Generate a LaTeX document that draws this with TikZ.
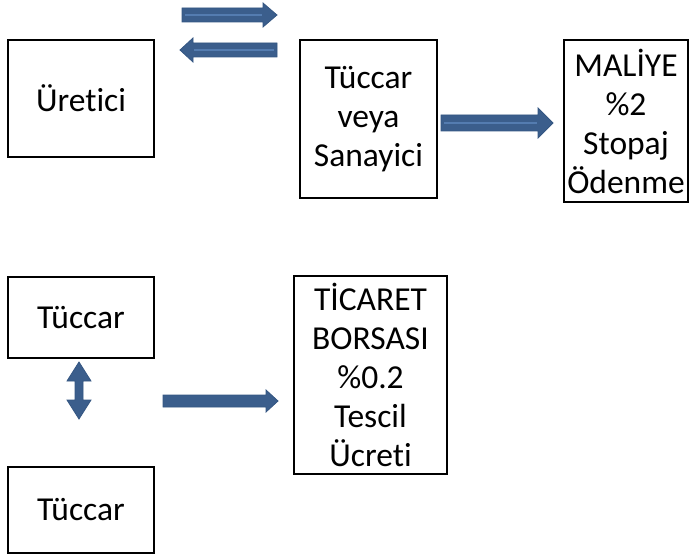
\documentclass[tikz,border=0pt]{standalone}
\usepackage{fontspec}
\setmainfont[Ligatures=NoCommon]{Carlito}
\definecolor{arrowfill}{RGB}{59,94,140}
\definecolor{arrowline}{RGB}{52,86,130}
\definecolor{stripe}{RGB}{84,124,176}
\tikzset{
  box/.style={draw=black, line width=1.8pt, inner sep=0pt, align=center,
    font=\fontsize{33.5}{39}\selectfont},
  blockarrow/.style={fill=arrowfill, draw=arrowline, line width=0.8pt, line join=miter},
  hilite/.style={draw=stripe, line width=2.5pt}
}
\begin{document}
\begin{tikzpicture}[x=1pt,y=-1pt]
\useasboundingbox (0,0) rectangle (690,556);
% boxes
\node[box, minimum width=146pt, minimum height=117pt] (uretici) at (81,98.5) {Üretici};
\node[box, minimum width=137pt, minimum height=158pt] (sanayici) at (368.5,119) {Tüccar\\veya\\Sanayici};
\node[box, minimum width=124pt, minimum height=162pt] (maliye) at (626,121) {MALİYE\\\%2\\Stopaj\\Ödenme};
\node[box, minimum width=146pt, minimum height=81pt] (tuccarA) at (81,317.5) {Tüccar};
\node[box, minimum width=153pt, minimum height=198pt] (borsa) at (370.5,375) {TİCARET\\BORSASI\\\%0.2\\Tescil\\Ücreti};
\node[box, minimum width=146pt, minimum height=86pt] (tuccarB) at (81,510) {Tüccar};
% arrows
\draw[blockarrow] (182,8)--(263,8)--(263,3)--(277,15)--(263,27)--(263,22)--(182,22)--cycle;
\draw[hilite] (185,15)--(262,15);
\draw[blockarrow] (277,43)--(193,43)--(193,38)--(180,50)--(193,62)--(193,57)--(277,57)--cycle;
\draw[hilite] (274,50)--(194,50);
\draw[blockarrow] (441,115)--(538,115)--(538,108)--(553,123)--(538,138)--(538,131)--(441,131)--cycle;
\draw[hilite] (444,123)--(537,123);
\draw[blockarrow] (163,395)--(266,395)--(266,390)--(278,401)--(266,412)--(266,407)--(163,407)--cycle;
\draw[blockarrow] (79,362)--(91,381)--(83,381)--(83,400)--(91,400)--(79,419)--(67,400)--(75,400)--(75,381)--(67,381)--cycle;
\end{tikzpicture}
\end{document}
